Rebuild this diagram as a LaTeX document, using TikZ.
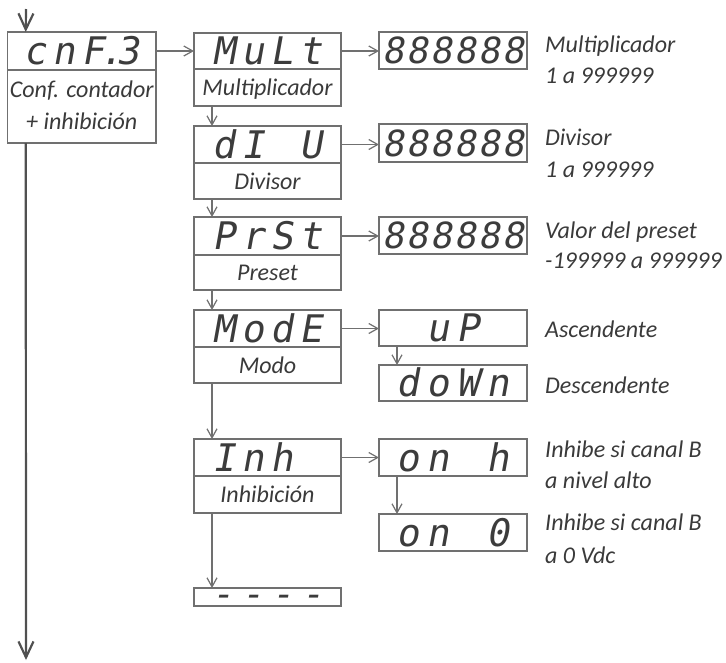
\documentclass[tikz,border=0pt]{standalone}
\usepackage{fontspec}
\setmainfont{Carlito}
\newfontfamily\segf{DejaVu Sans Mono}[FakeSlant=0.18]
\usetikzlibrary{arrows.meta}
\definecolor{linec}{HTML}{707070}
\definecolor{txtc}{HTML}{3A3A3A}
\definecolor{segc}{HTML}{3C3C3C}
\definecolor{mainc}{HTML}{505050}
\newlength\cellw
\newcommand\cl[1]{\makebox[\cellw][c]{#1}}
\begin{document}
\begin{tikzpicture}[x=1pt,y=-1pt,
  box/.style={draw=linec, line width=1.2pt, inner sep=0pt, outer sep=0pt},
  seg/.style={box, font=\segf\fontsize{38}{38}\selectfont, text=segc, text height=27.7pt, text depth=0pt},
  segs/.style={box, font=\segf\fontsize{36}{36}\selectfont, text=segc, text height=26.2pt, text depth=0pt},
  lab/.style={box, font=\itshape\fontsize{24}{30}\selectfont, text=txtc, text height=16pt, text depth=0pt},
  desc/.style={anchor=base west, inner sep=0pt, font=\itshape\fontsize{24}{30}\selectfont, text=txtc},
  clab/.style={anchor=base, inner sep=0pt, font=\itshape\fontsize{24}{30}\selectfont, text=txtc},
  arr/.style={draw=linec, line width=1.2pt, -{Straight Barb[length=9pt,width=10pt]}},
  bigarr/.style={draw=mainc, line width=2.2pt, -{Straight Barb[length=16pt,width=15pt]}},
  c2/.style={minimum width=147pt},
  c3/.style={minimum width=148pt}]
\useasboundingbox (0,0) rectangle (726,662);

% main box
\node[seg, minimum width=148.5pt, minimum height=38pt] (ct) at (81.75,51)
  {\setlength\cellw{29pt}\cl{c}\cl{n}\cl{F}\makebox[6pt]{.}\cl{3}};
\node[box, minimum width=148.5pt, minimum height=73pt] (cb) at (81.75,106.5) {};
\node[clab] (cb1) at (81.75,97) {Conf. contador};
\node[clab] (cb2) at (81.75,129) {+ inhibición};

% column 2
\node[seg, c2, minimum height=36pt] (mt) at (267.5,51) {\setlength\cellw{29pt}\cl{M}\cl{u}\cl{L}\cl{t}};
\node[lab, c2, minimum height=37pt] (mb) at (267.5,87.5) {Multiplicador};
\node[seg, c2, minimum height=37pt] (dt) at (267.5,144.5) {\setlength\cellw{29pt}\cl{d}\cl{I}\cl{ }\cl{U}};
\node[lab, c2, minimum height=36pt] (db) at (267.5,181) {Divisor};
\node[seg, c2, minimum height=38pt] (prt) at (267.5,236) {\setlength\cellw{29pt}\cl{P}\cl{r}\cl{S}\cl{t}};
\node[lab, c2, minimum height=35pt] (prb) at (267.5,272.5) {Preset};
\node[seg, c2, minimum height=37pt] (mot) at (267.5,328.5) {\setlength\cellw{29pt}\cl{M}\cl{o}\cl{d}\cl{E}};
\node[lab, c2, minimum height=36pt] (mob) at (267.5,365) {Modo};
\node[seg, c2, minimum height=37pt] (it) at (267.5,457.5) {\setlength\cellw{29pt}\cl{I}\cl{n}\cl{h}\cl{ }};
\node[lab, c2, minimum height=37pt] (ib) at (267.5,494.5) {Inhibición};
\node[box, c2, minimum height=18pt] (dsh) at (267.5,597) {};
\node[anchor=base, inner sep=0pt, font=\segf\fontsize{36}{36}\selectfont, text=segc] (dshtxt) at (267.5,606.5)
  {\setlength\cellw{30pt}\cl{-}\cl{-}\cl{-}\cl{-}};

% column 3
\node[segs, c3, minimum height=37pt] (v1) at (453,50.5) {\setlength\cellw{24pt}\cl{8}\cl{8}\cl{8}\cl{8}\cl{8}\cl{8}};
\node[segs, c3, minimum height=38pt] (v2) at (453,143) {\setlength\cellw{24pt}\cl{8}\cl{8}\cl{8}\cl{8}\cl{8}\cl{8}};
\node[segs, c3, minimum height=37pt] (v3) at (453,235.5) {\setlength\cellw{24pt}\cl{8}\cl{8}\cl{8}\cl{8}\cl{8}\cl{8}};
\node[seg, c3, minimum height=36pt] (up) at (453,328) {\setlength\cellw{30pt}\cl{ }\cl{u}\cl{P}\cl{ }};
\node[seg, c3, minimum height=36pt] (dn) at (453,383) {\setlength\cellw{30pt}\cl{d}\cl{o}\cl{W}\cl{n}};
\node[seg, c3, minimum height=37pt] (oh) at (453,457.5) {\setlength\cellw{30pt}\cl{o}\cl{n}\cl{ }\cl{h}};
\node[seg, c3, minimum height=37pt] (oz) at (453,532.5) {\setlength\cellw{30pt}\cl{o}\cl{n}\cl{ }\cl{0}};

% descriptions
\node[desc] (d1a) at (545,52) {Multiplicador};
\node[desc] (d1b) at (545,83) {1 a 999999};
\node[desc] (d2a) at (545,145) {Divisor};
\node[desc] (d2b) at (545,177) {1 a 999999};
\node[desc] (d3a) at (545,238) {Valor del preset};
\node[desc] (d3b) at (545,268) {-199999 a 999999};
\node[desc] (d4) at (545,337) {Ascendente};
\node[desc] (d5) at (545,393) {Descendente};
\node[desc] (d6a) at (545,457) {Inhibe si canal B};
\node[desc] (d6b) at (545,488) {a nivel alto};
\node[desc] (d7a) at (545,530) {Inhibe si canal B};
\node[desc] (d7b) at (545,563) {a 0 Vdc};

% connectors
\coordinate (topc) at (26,9);
\coordinate (endc) at (26,660);
\draw[bigarr] (topc) -- ([xshift=18.25pt]ct.north west);
\draw[bigarr] ([xshift=18.25pt]cb.south west) -- (endc);

\draw[arr] (ct.east) -- (ct.east -| mt.west);
\draw[arr] (mt.east) -- (mt.east -| v1.west);
\draw[arr] (dt.east) -- (dt.east -| v2.west);
\draw[arr] (prt.east) -- (prt.east -| v3.west);
\draw[arr] (mot.east) -- (mot.east -| up.west);
\draw[arr] (it.east) -- (it.east -| oh.west);

\draw[arr] ([xshift=18pt]mb.south west) -- ([xshift=18pt]dt.north west);
\draw[arr] ([xshift=18pt]db.south west) -- ([xshift=18pt]prt.north west);
\draw[arr] ([xshift=18pt]prb.south west) -- ([xshift=18pt]mot.north west);
\draw[arr] ([xshift=18pt]mob.south west) -- ([xshift=18pt]it.north west);
\draw[arr] ([xshift=18pt]ib.south west) -- ([xshift=18pt]dsh.north west);
\draw[arr] ([xshift=18pt]up.south west) -- ([xshift=18pt]dn.north west);
\draw[arr] ([xshift=18pt]oh.south west) -- ([xshift=18pt]oz.north west);
\end{tikzpicture}
\end{document}
